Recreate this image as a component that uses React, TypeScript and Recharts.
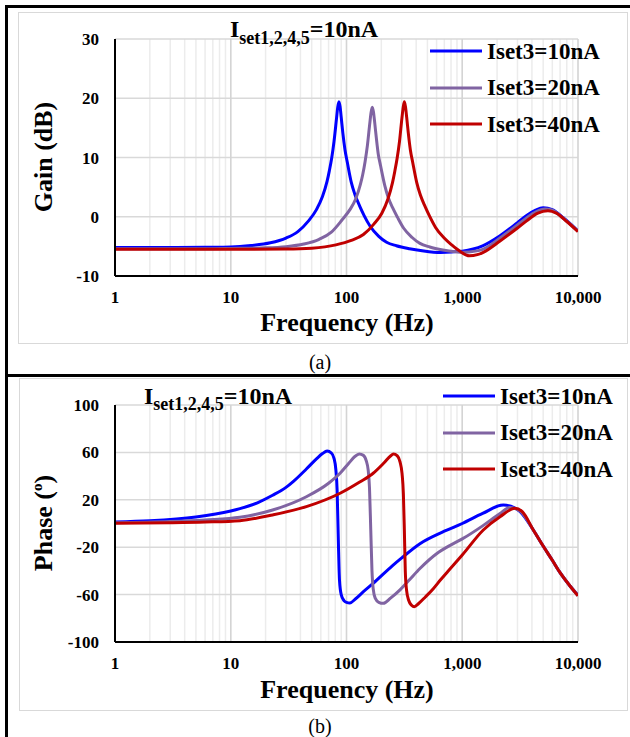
import { LineChart, Line, XAxis, YAxis, CartesianGrid, ReferenceLine, Legend } from "recharts";

const FONT = "'Liberation Serif', 'Times New Roman', serif";

// log frequency axis (Hz)
const decades = [1, 10, 100, 1000, 10000];
const minorSteps = [2, 3, 4, 5, 6, 7, 8, 9];
const freqTicks = [
  ...decades,
  ...decades.slice(0, -1).flatMap((d) => minorSteps.map((s) => d * s)),
].sort((a, b) => a - b);

const gainTicks = [-10, 0, 10, 20, 30];
const phaseTicks = [-100, -60, -20, 20, 60, 100];

const seriesNames = ["Iset3=10nA", "Iset3=20nA", "Iset3=40nA"];
const seriesColors = ["#0000FF", "#8064A2", "#C00000"];

// gain (dB) as [frequency, value]
const gain10 = [
  [1, -5.2], [3, -5.2], [6, -5.15], [10, -5.1], [15, -4.85], [22, -4.4], [30, -3.6], [38, -2.5],
  [47, -0.7], [55, 1.2], [62, 3.4], [68, 6.0], [71, 7.7], [74.5, 9.9], [78, 12.7], [82, 16.6],
  [84, 18.5], [86, 19.4], [88, 18.6], [90, 16.8], [93, 14.1], [97, 11.3], [101.6, 9.2], [110, 5.8],
  [118, 3.8], [130, 1.8], [142, 0.2], [160, -1.6], [190, -3.3], [222, -4.3], [270, -4.9],
  [350, -5.4], [450, -5.75], [650, -6.05], [1000, -5.8], [1500, -4.9], [2120, -3.2], [3000, -1.0],
  [3600, 0.2], [4300, 1.1], [5000, 1.5], [6000, 1.2], [7500, -0.2], [10000, -2.4],
];
const gain20 = [
  [1, -5.4], [3, -5.4], [6, -5.4], [10, -5.35], [20, -5.25], [30, -5.05], [42.7, -4.6], [58, -3.8],
  [74, -2.6], [91, -0.6], [107, 1.2], [120, 3.0], [132, 5.5], [138, 7.1], [144.7, 9.3], [151.5, 12.0],
  [159, 15.8], [163, 17.6], [167, 18.5], [171, 17.7], [175, 16.0], [181, 13.3], [188, 10.6],
  [197, 8.6], [214, 5.3], [229, 3.3], [252, 1.4], [276, -0.1], [311, -1.9], [369, -3.5],
  [431, -4.5], [524, -5.1], [680, -5.6], [874, -5.9], [1000, -6.0], [1300, -5.8], [1500, -5.5],
  [2120, -3.6], [3000, -1.4], [3600, -0.2], [4300, 0.8], [5200, 1.3], [6000, 1.1], [7500, -0.3],
  [10000, -2.4],
];
const gain40 = [
  [1, -5.5], [10, -5.5], [30, -5.45], [50, -5.3], [81, -4.75], [110, -4.0], [140, -3.0],
  [173, -1.2], [202, 0.6], [228, 3.0], [250, 5.8], [261, 7.6], [274, 9.9], [287, 12.7], [301, 16.6],
  [309, 18.5], [316, 19.4], [323, 18.6], [331, 16.8], [342, 14.1], [356, 11.3], [373, 9.2],
  [404, 5.8], [434, 3.7], [478, 1.7], [522, 0.1], [588, -1.8], [698, -3.6], [816, -4.8],
  [950, -5.8], [1150, -6.6], [1350, -6.4], [1520, -6.0], [2120, -4.1], [3000, -1.9], [3600, -0.7],
  [4500, 0.6], [5500, 1.0], [6500, 0.6], [8000, -0.8], [10000, -2.5],
];

// phase (degrees) as [frequency, value]
const phase10 = [
  [1, 1.3], [2, 2.3], [5, 5.5], [10, 10.6], [12, 12.6], [17, 17.5], [23, 23.8], [30, 30.5],
  [35, 35.8], [45, 46], [55, 54.5], [62, 59], [68, 61.2], [74, 59.5], [78, 55], [81, 45], [83, 28],
  [85, -14], [87, -48], [90, -60], [95, -65], [100, -66.5], [107, -67], [120, -63.5], [140, -57.5],
  [170, -50.5], [250, -35.5], [300, -29], [431, -17], [700, -6.5], [1000, 0], [1500, 8.5],
  [2264, 15.6], [2800, 13.5], [3160, 10], [4110, -5.5], [5000, -19], [6000, -31], [7000, -41.5],
  [8500, -52.5], [10000, -60.5],
];
const phase20 = [
  [1, 0.6], [3, 1.6], [6, 3], [12, 5.2], [23, 11.4], [45, 22.6], [70, 34], [88, 42.4], [105, 51],
  [118, 56.5], [129, 58.6], [140, 57.5], [148, 53], [154, 45], [158, 30], [162, -5], [166, -40],
  [170, -55], [177, -63], [190, -66.5], [208, -67.4], [240, -63], [290, -56], [350, -47.5],
  [431, -38], [600, -25.5], [800, -18], [1000, -13], [1500, -2], [2120, 8.5], [2570, 13.6],
  [3160, 10.5], [4110, -5.5], [5000, -19], [6000, -31], [7000, -41.5], [8500, -52.5], [10000, -60.8],
];
const phase40 = [
  [1, 0.2], [3, 0.6], [6, 1.2], [12, 2.4], [23, 7.2], [45, 14.2], [88, 25.5], [130, 35], [170, 42.4],
  [210, 51], [240, 57], [254, 58.6], [275, 57], [290, 52], [302, 42], [310, 25], [316, -5],
  [322, -40], [330, -56], [345, -65], [365, -69], [385, -70.2], [420, -67.5], [480, -62],
  [562, -55], [650, -47.5], [750, -40.5], [1000, -26.6], [1520, -5.5], [2120, 5.7], [2855, 12.8],
  [3300, 10], [4110, -5.5], [5000, -19], [6000, -31], [7000, -41.5], [8500, -52.5], [10000, -61],
];

const toPoints = (rows: number[][]) => rows.map(([f, v]) => ({ f, v }));

const renderLegend = (props: any) => (
  <div style={{ fontFamily: FONT }}>
    {(props.payload || []).map((entry: any) => (
      <div key={entry.value} style={{ display: "flex", alignItems: "center", height: 36.5 }}>
        <svg width={52} height={6} style={{ display: "block" }}>
          <line x1={0} y1={3} x2={52} y2={3} stroke={entry.color} strokeWidth={3} />
        </svg>
        <span style={{ marginLeft: 5, fontSize: 23, fontWeight: "bold", color: "#000", lineHeight: 1 }}>
          {entry.value}
        </span>
      </div>
    ))}
  </div>
);

const BodePanel = ({ top, height, marginTop, marginBottom, yTicks, series, legendLeft, legendTop }: any) => (
  <div style={{ position: "absolute", left: 0, top }}>
    <LineChart width={630} height={height} margin={{ top: marginTop, right: 52, bottom: marginBottom, left: 0 }}>
      <CartesianGrid horizontal={false} stroke="#ececec" strokeWidth={1.5} />
      <CartesianGrid vertical={false} stroke="#d9d9d9" strokeWidth={1.5} />
      {decades.slice(1).map((d) => (
        <ReferenceLine key={d} x={d} stroke="#d4d4d4" strokeWidth={1.5} />
      ))}
      <XAxis
        dataKey="f"
        type="number"
        scale="log"
        domain={[1, 10000]}
        ticks={freqTicks}
        interval={0}
        allowDataOverflow
        tickFormatter={(v: number) => (decades.includes(v) ? v.toLocaleString("en-US") : "")}
        tickLine={false}
        tickSize={6}
        tickMargin={9}
        height={30}
        axisLine={{ stroke: "#000", strokeWidth: 2 }}
        tick={{ fill: "#000", fontSize: 17, fontWeight: "bold", fontFamily: FONT }}
      />
      <YAxis
        type="number"
        domain={[yTicks[0], yTicks[yTicks.length - 1]]}
        ticks={yTicks}
        interval={0}
        width={115}
        tickLine={false}
        tickSize={6}
        tickMargin={10}
        axisLine={{ stroke: "#000", strokeWidth: 2 }}
        tick={{ fill: "#000", fontSize: 17, fontWeight: "bold", fontFamily: FONT }}
      />
      {series.map((rows: number[][], i: number) => (
        <Line
          key={seriesNames[i]}
          data={toPoints(rows)}
          dataKey="v"
          name={seriesNames[i]}
          type="monotone"
          stroke={seriesColors[i]}
          strokeWidth={3}
          dot={false}
          activeDot={false}
          isAnimationActive={false}
        />
      ))}
      <Legend
        layout="vertical"
        align="center"
        verticalAlign="middle"
        content={renderLegend}
        wrapperStyle={{ left: legendLeft, top: legendTop, width: 190 }}
      />
    </LineChart>
  </div>
);

const textBase: any = { position: "absolute", fontFamily: FONT, color: "#000", whiteSpace: "nowrap", lineHeight: 1 };

const Title = ({ left, top, subShift }: any) => (
  <div style={{ ...textBase, left, top, fontSize: 24, fontWeight: "bold" }}>
    I
    <span style={{ fontSize: 18, verticalAlign: -subShift, lineHeight: 0 }}>set1,2,4,5</span>
    =10nA
  </div>
);

export default function App() {
  return (
    <div style={{ position: "absolute", left: 0, top: 0, width: 630, height: 737, background: "#fff" }}>
      {/* table borders */}
      <div style={{ position: "absolute", left: 5, top: 5, width: 625, height: 2.5, background: "#000" }} />
      <div style={{ position: "absolute", left: 5, top: 5, width: 2.5, height: 732, background: "#000" }} />
      <div style={{ position: "absolute", left: 5, top: 374, width: 625, height: 2.5, background: "#000" }} />
      {/* chart area frames */}
      <div style={{ position: "absolute", left: 18, top: 12, width: 608, height: 330, border: "1.5px solid #d9d9d9" }} />
      <div style={{ position: "absolute", left: 19, top: 378, width: 607, height: 331, border: "1.5px solid #d9d9d9" }} />

      <BodePanel
        top={0}
        height={370}
        marginTop={39}
        marginBottom={64}
        yTicks={gainTicks}
        series={[gain10, gain20, gain40]}
        legendLeft={430}
        legendTop={33}
      />
      <BodePanel
        top={370}
        height={367}
        marginTop={35}
        marginBottom={65}
        yTicks={phaseTicks}
        series={[phase10, phase20, phase40]}
        legendLeft={443}
        legendTop={8}
      />

      <Title left={230} top={17} subShift={7} />
      <Title left={144} top={384} subShift={6} />

      <div style={{ ...textBase, left: 44, top: 157, fontSize: 26, fontWeight: "bold", transform: "translate(-50%, -50%) rotate(-90deg)" }}>
        Gain (dB)
      </div>
      <div style={{ ...textBase, left: 44, top: 523, fontSize: 26, fontWeight: "bold", transform: "translate(-50%, -50%) rotate(-90deg)" }}>
        Phase (<sup style={{ fontSize: 15, lineHeight: 0 }}>o</sup>)
      </div>

      <div style={{ ...textBase, left: 347, top: 310, fontSize: 26, fontWeight: "bold", transform: "translateX(-50%)" }}>
        Frequency (Hz)
      </div>
      <div style={{ ...textBase, left: 347, top: 677, fontSize: 26, fontWeight: "bold", transform: "translateX(-50%)" }}>
        Frequency (Hz)
      </div>

      <div style={{ ...textBase, left: 320, top: 352, fontSize: 20, transform: "translateX(-50%)" }}>(a)</div>
      <div style={{ ...textBase, left: 320, top: 716, fontSize: 20, transform: "translateX(-50%)" }}>(b)</div>
    </div>
  );
}
